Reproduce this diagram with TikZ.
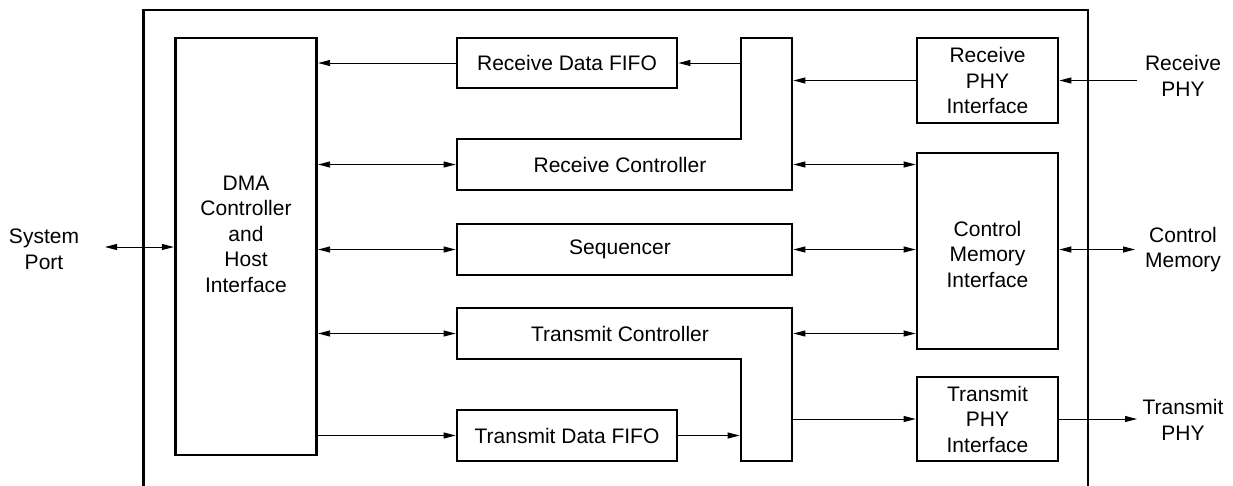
\documentclass[tikz,border=0pt]{standalone}
\usepackage{fontspec}
\setmainfont{Liberation Sans}
\usetikzlibrary{arrows.meta}
\tikzset{
  txtfont/.style={font={\fontsize{21}{25.5}\selectfont}},
  blk/.style={draw, line width=2.8pt, inner sep=0pt, align=center, txtfont},
  part/.style={inner sep=0pt, outer sep=1.4pt},
  lbl/.style={align=center, inner sep=0pt, txtfont},
  conn/.style={line width=0.9pt, -{Triangle[length=12pt,width=6pt]}},
  bi/.style={line width=0.9pt, {Triangle[length=12pt,width=6pt]}-{Triangle[length=12pt,width=6pt]}},
  frame/.style={line width=2.8pt}
}
\begin{document}
\begin{tikzpicture}[x=1pt,y=-1pt]
\useasboundingbox (0,0) rectangle (1233,485);
% outer frame (open at bottom)
\draw[frame] (143.5,486) -- (143.5,10) -- (1088,10) -- (1088,486);

% DMA block
\node[blk, minimum width=141.5pt, minimum height=417pt] (dma) at (246,246.5) {};
\node[lbl] (dmat) at ([yshift=12.5pt]dma.center) {DMA\\Controller\\and\\Host\\Interface};

% Receive Data FIFO
\node[blk, minimum width=220pt, minimum height=50pt] (rdf) at (567,63) {Receive Data FIFO};

% Receive Controller (L shape)
\draw[line width=2.8pt] (457,139) -- (741,139) -- (741,38) -- (792,38) -- (792,190) -- (457,190) -- cycle;
\node[part, minimum width=51pt, minimum height=152pt] (rcv) at (766.5,114) {};
\node[part, minimum width=335pt, minimum height=51pt] (rch) at (624.5,164.5) {};
\node[lbl] (rct) at (620,164.5) {Receive Controller};

% Sequencer
\node[blk, minimum width=335pt, minimum height=51pt] (seq) at (624.5,249.5) {};
\node[lbl] (seqt) at (620,249.5) {Sequencer};

% Transmit Controller (L shape)
\draw[line width=2.8pt] (457,308) -- (792,308) -- (792,461) -- (741,461) -- (741,359) -- (457,359) -- cycle;
\node[part, minimum width=335pt, minimum height=51pt] (tch) at (624.5,333.5) {};
\node[part, minimum width=51pt, minimum height=153pt] (tcv) at (766.5,384.5) {};
\node[lbl] (tct) at (620,333.5) {Transmit Controller};

% Transmit Data FIFO
\node[blk, minimum width=220pt, minimum height=51pt] (tdf) at (567,435.5) {Transmit Data FIFO};

% Right column
\node[blk, minimum width=141pt, minimum height=85pt] (rphy) at (987.5,80.5) {Receive\\PHY\\Interface};
\node[blk, minimum width=141pt, minimum height=196pt] (cmi) at (987.5,251) {};
\node[lbl] (cmit) at (987.5,254) {Control\\Memory\\Interface};
\node[blk, minimum width=141pt, minimum height=84pt] (tphy) at (987.5,419) {Transmit\\PHY\\Interface};

% External labels
\node[lbl] (sp) at (44,249.5) {System\\Port};
\node[lbl] (rp) at (1183,76) {Receive\\PHY};
\node[lbl] (cm) at (1183,249.5) {Control\\Memory};
\node[lbl] (tp) at (1183,420) {Transmit\\PHY};

\coordinate (spe) at (105,247);
\coordinate (rpe) at (1137,80.5);
\coordinate (cme) at (1135,249.5);
\coordinate (tpe) at (1137,419);

% Connectors
\draw[bi] (spe) -- (dma.west |- spe);
\draw[conn] (rcv.west |- rdf.east) -- (rdf.east);
\draw[conn] (rdf.west) -- (dma.east |- rdf.west);
\draw[conn] (rpe) -- (rphy.east);
\draw[conn] (rphy.west) -- (rcv.east |- rphy.west);
\draw[bi] (dma.east |- rch.west) -- (rch.west);
\draw[bi] (rcv.east |- rch.east) -- (cmi.west |- rch.east);
\draw[bi] (dma.east |- seq.west) -- (seq.west);
\draw[bi] (seq.east) -- (cmi.west |- seq.east);
\draw[bi] (cmi.east |- cme) -- (cme);
\draw[bi] (dma.east |- tch.west) -- (tch.west);
\draw[bi] (tcv.east |- tch.east) -- (cmi.west |- tch.east);
\draw[conn] (dma.east |- tdf.west) -- (tdf.west);
\draw[conn] (tdf.east) -- (tcv.west |- tdf.east);
\draw[conn] (tcv.east |- tphy.west) -- (tphy.west);
\draw[conn] (tphy.east) -- (tpe);
\end{tikzpicture}
\end{document}
